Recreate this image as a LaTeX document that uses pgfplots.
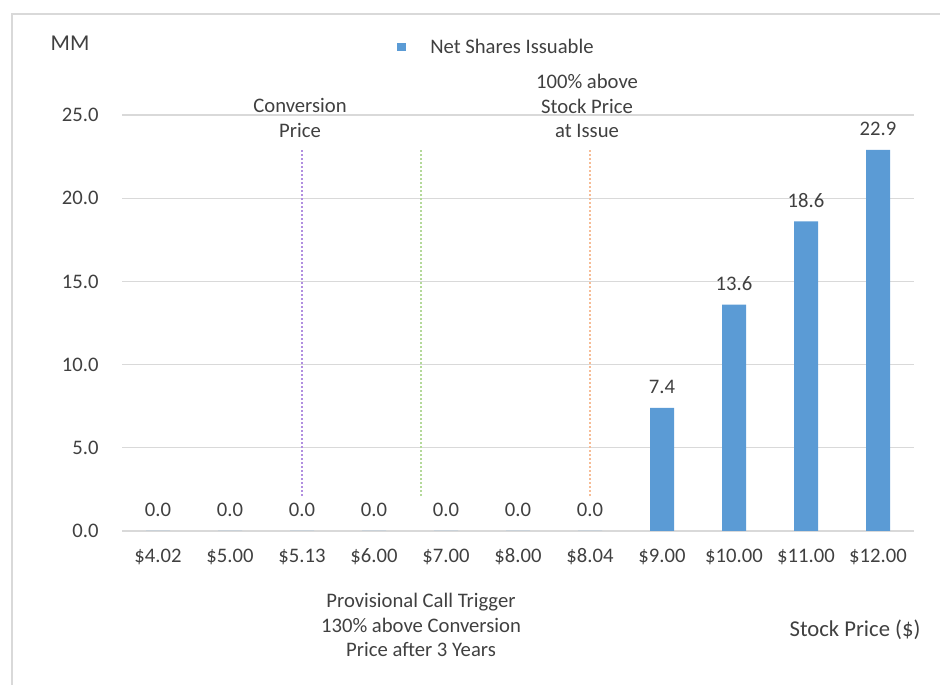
\documentclass[border=0pt]{standalone}
\usepackage{pgfplots}
\pgfplotsset{compat=1.18}
\usepackage{fontspec}
\setmainfont{Carlito}
\definecolor{txt}{HTML}{404040}
\definecolor{barc}{HTML}{5B9BD5}
\definecolor{gridc}{HTML}{D9D9D9}
\definecolor{vpurple}{HTML}{B18FE0}
\definecolor{vgreen}{HTML}{B4D99A}
\definecolor{vorange}{HTML}{F6BC96}
\newcommand{\fs}{\fontsize{15.5}{18.5}\selectfont}
\begin{document}
\begin{tikzpicture}
\path[use as bounding box] (0,0) rectangle (705pt,513.75pt);
\draw[gridc, line width=1.2pt] (9pt,0) -- (9pt,503.25pt) -- (705pt,503.25pt);
\begin{axis}[
  at={(91.5pt,115.5pt)}, anchor=south west,
  scale only axis, width=594pt, height=312pt,
  xmin=-0.5, xmax=10.5, ymin=0, ymax=25,
  xtick={0,...,10},
  xticklabels={\$4.02,\$5.00,\$5.13,\$6.00,\$7.00,\$8.00,\$8.04,\$9.00,\$10.00,\$11.00,\$12.00},
  ytick={0,5,...,25},
  yticklabel={\pgfmathprintnumber[fixed,fixed zerofill,precision=1]{\tick}},
  /pgf/number format/assume math mode=true,
  major tick length=0pt,
  xmajorgrids=false,
  ymajorgrids=true,
  major grid style={draw=gridc, line width=0.9pt},
  axis x line*=bottom,
  axis y line*=left,
  x axis line style={draw=gridc, line width=1.2pt, -},
  y axis line style={draw=none},
  tick label style={font=\fs, text=txt},
  xticklabel style={text height=11pt, text depth=3pt, yshift=-9pt},
  yticklabel style={xshift=-14pt},
  legend style={draw=none, fill=none, font=\fs, text=txt, at={(0.473,1.163)}, anchor=center,
    legend cell align=left},
  legend image code/.code={\fill[barc, draw=none] (0pt,-3pt) rectangle (6.5pt,3.5pt); \path[draw=none, fill=none] (0pt,0pt) rectangle (23pt,0.1pt);},
  clip=false,
]
\addplot[ybar, bar width=18pt, fill=barc, draw=none,
  nodes near coords={\pgfmathprintnumber[fixed,fixed zerofill,precision=1]{\pgfplotspointmeta}},
  every node near coord/.append style={font=\fs, text=txt, anchor=center, yshift=15.5pt},
  point meta=explicit symbolic]
  coordinates {(0,0)[0.0] (1,0)[0.0] (2,0)[0.0] (3,0)[0.0] (4,0)[0.0] (5,0)[0.0] (6,0)[0.0]
               (7,7.4)[7.4] (8,13.6)[13.6] (9,18.6)[18.6] (10,22.9)[22.9]};
\addlegendentry{Net Shares Issuable}
\addplot[vpurple, line width=1.4pt, dash pattern=on 1.3pt off 1.7pt, forget plot] coordinates {(2,2.1) (2,22.9)};
\addplot[vgreen, line width=1.4pt, dash pattern=on 1.3pt off 1.7pt, forget plot] coordinates {(3.65,2.1) (3.65,22.9)};
\addplot[vorange, line width=1.4pt, dash pattern=on 1.3pt off 1.7pt, forget plot] coordinates {(6,2.1) (6,22.9)};
\end{axis}
\begin{scope}[x=0.75pt, y=-0.75pt, yshift=513.75pt, every node/.style={font=\fs, text=txt, align=center}]
\node at (70,43) {\fontsize{17}{20}\selectfont MM};
\node at (300,118) {Conversion\\Price};
\node at (587,106) {100\% above\\Stock Price\\at Issue};
\node at (421,625) {Provisional Call Trigger\\130\% above Conversion\\Price after 3 Years};
\node at (855,630) {\fontsize{17}{20}\selectfont Stock Price (\$)};
\end{scope}
\end{tikzpicture}
\end{document}
